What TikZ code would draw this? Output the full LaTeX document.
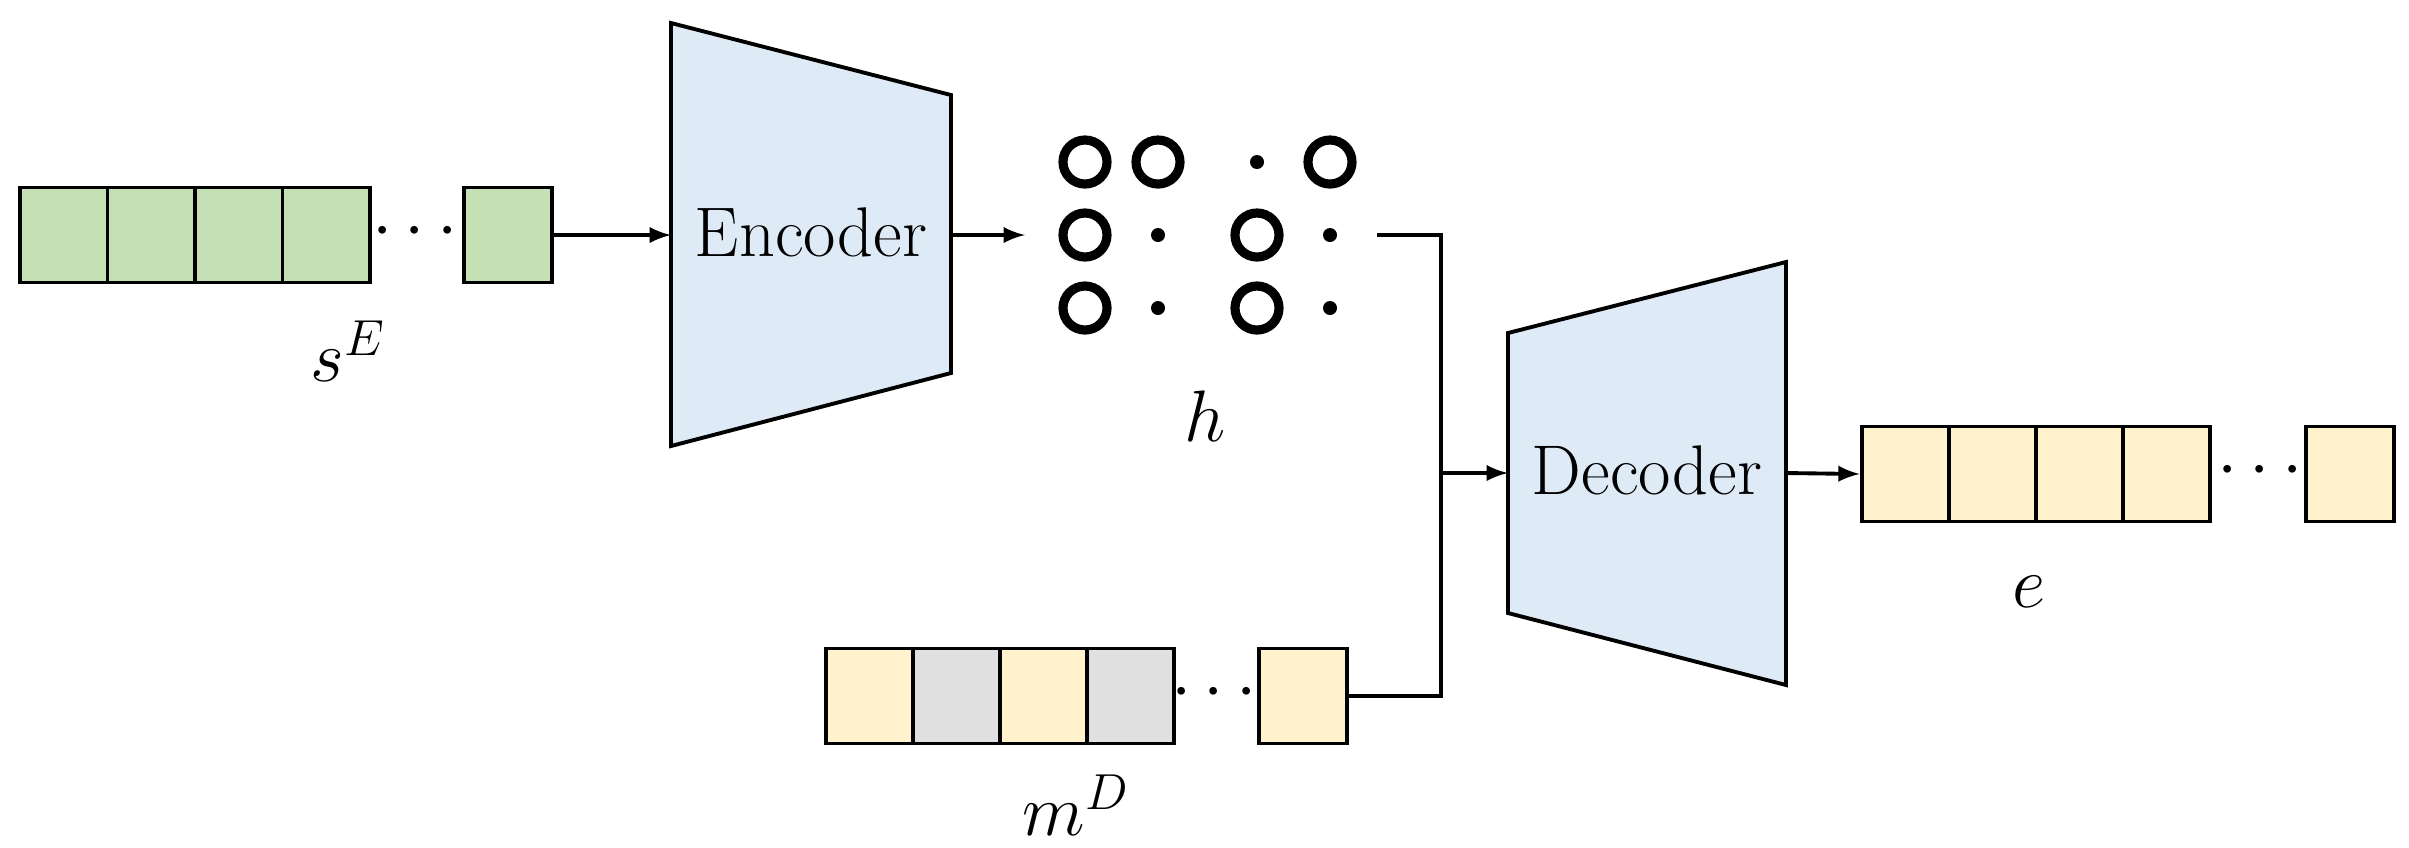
\documentclass[tikz,border=0pt]{standalone}
\usetikzlibrary{positioning}
\definecolor{cGreen}{RGB}{197,224,180}
\definecolor{cYellow}{RGB}{255,242,204}
\definecolor{cGray}{RGB}{224,224,224}
\definecolor{cBlue}{RGB}{222,235,247}
\begin{document}
\begin{tikzpicture}
		[x=0.01cm,y=-0.01cm,>=latex,
		 cell/.style={draw,line width=1.1pt,minimum width=0.875cm,minimum height=0.95cm,inner sep=0pt},
		 coder/.style={draw,line width=1.1pt,fill=cBlue,line join=miter},
		 ring/.style={circle,draw,line width=2.6pt,minimum size=0.44cm,inner sep=0pt},
		 spot/.style={circle,fill=black,minimum size=0.14cm,inner sep=0pt},
		 lbl/.style={font=\fontsize{20}{24}\selectfont},
		 link/.style={line width=1.1pt}]

        \useasboundingbox (0,0) rectangle (2409,847);

        % input sequence
        \foreach \i in {1,...,4}
            \node[cell,fill=cGreen] (s\i) at ({20+87.5*(\i-0.5)},235) {};
        \node[lbl] (sdots) at (415,232) {$\cdots$};
        \node[cell,fill=cGreen] (s5) at (508,235) {};
        \node[lbl] (sE) at (348,351) {$s^E$};

        % encoder
        \coordinate (enc-w) at (671,235);
        \coordinate (enc-e) at (951,235);
        \draw[coder] (671,23) -- (951,95) -- (951,373) -- (671,446) -- cycle;
        \node[lbl] (enc) at (811,232) {Encoder};

        % hidden states
        \node[ring] (h11) at (1085,162) {};
        \node[ring] (h12) at (1158,162) {};
        \node[spot] (h13) at (1257,162) {};
        \node[ring] (h14) at (1330,162) {};
        \foreach \r/\y in {2/235,3/308} {
            \node[ring] (h\r1) at (1085,\y) {};
            \node[spot] (h\r2) at (1158,\y) {};
            \node[ring] (h\r3) at (1257,\y) {};
            \node[spot] (h\r4) at (1330,\y) {};
        }
        \node[lbl] (hl) at (1205,416) {$h$};
        \coordinate (h-in) at (1025,235);
        \coordinate (h-out) at (1377,235);

        % masked sequence
        \foreach \i/\c in {1/cYellow,2/cGray,3/cYellow,4/cGray}
            \node[cell,fill=\c] (m\i) at ({826+87*(\i-0.5)},696) {};
        \node[lbl] (mdots) at (1214,693) {$\cdots$};
        \node[cell,fill=cYellow] (m5) at (1303,696) {};
        \node[lbl] (mD) at (1076,805) {$m^D$};

        % decoder
        \coordinate (dec-w) at (1508,473);
        \coordinate (dec-e) at (1786,473);
        \coordinate (join) at (1441,473);
        \draw[coder] (1508,333) -- (1786,262) -- (1786,685) -- (1508,613) -- cycle;
        \node[lbl] (dec) at (1647,470) {Decoder};

        % output sequence
        \foreach \i in {1,...,4}
            \node[cell,fill=cYellow] (e\i) at ({1862+87*(\i-0.5)},474) {};
        \node[lbl] (edots) at (2260,471) {$\cdots$};
        \node[cell,fill=cYellow] (e5) at (2350,474) {};
        \node[lbl] (el) at (2029,592) {$e$};

        % connectors
        \draw[link,->] (s5.east) -- (enc-w);
        \draw[link,->] (enc-e) -- (h-in);
        \draw[link] (h-out) -| (join);
        \draw[link] (m5.east) -| (join);
        \draw[link,->] (join) -- (dec-w);
        \draw[link,->] (dec-e) -- (e1.west);

    \end{tikzpicture}
\end{document}
